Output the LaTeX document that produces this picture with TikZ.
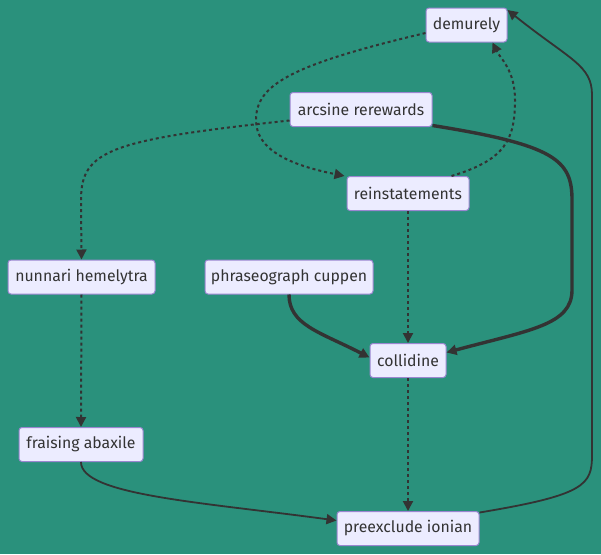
\documentclass[tikz,border=0pt]{standalone}
\usepackage{fontspec}
\setmainfont{Fira Sans}
\usetikzlibrary{arrows.meta}
\definecolor{bg}{HTML}{2A917C}
\definecolor{nfill}{HTML}{ECECFF}
\definecolor{nborder}{HTML}{9A86D0}
\definecolor{edgec}{HTML}{333333}
\begin{document}
\begin{tikzpicture}[x=1pt,y=-1pt,
  box/.style={draw=nborder,fill=nfill,rounded corners=3pt,line width=1pt,inner sep=0pt,
    minimum height=34pt,font=\fontsize{15.8}{18}\selectfont,text=edgec},
  link/.style={draw=edgec,line width=1.8pt,-{Triangle[length=10pt,width=10pt]}},
  thicklink/.style={link,line width=3.4pt},
  dotlink/.style={link,line width=2pt,dash pattern=on 3pt off 3pt}]
\fill[bg] (0,0) rectangle (601,554);
\node[box,minimum width=81pt]  (dem) at (466.5,25) {demurely};
\node[box,minimum width=142pt] (arc) at (361,109.5) {arcsine rerewards};
\node[box,minimum width=122pt] (rei) at (408,193.5) {reinstatements};
\node[box,minimum width=147pt] (nun) at (81.5,277) {nunnari hemelytra};
\node[box,minimum width=168pt] (phr) at (289,277) {phraseograph cuppen};
\node[box,minimum width=76pt]  (col) at (408,360.5) {collidine};
\node[box,minimum width=124pt] (fra) at (81,444.5) {fraising abaxile};
\node[box,minimum width=142pt] (pre) at (408,528.5) {preexclude ionian};
% demurely -> reinstatements
\draw[dotlink] ([yshift=-8pt]dem.west) .. controls (290,65) and (256,85) .. (256,120)
  .. controls (256,150) and (290,165) .. ([xshift=-2pt]rei.north west);
% arcsine -> nunnari
\draw[dotlink] ([yshift=-11pt]arc.west) .. controls (110,140) and (81,150) .. (81,200) -- (nun.north);
% reinstatements -> demurely
\draw[dotlink] ([xshift=-18pt]rei.north east) .. controls (505,160) and (515,140) .. (515,100)
  .. controls (515,70) and (500,58) .. ([xshift=-15pt]dem.south east);
% arcsine -> collidine
\draw[thicklink] ([yshift=-16pt]arc.east) .. controls (555,145) and (572,160) .. (572,200) -- (572,290)
  .. controls (572,325) and (530,330) .. ([yshift=8pt]col.east);
% reinstatements -> collidine
\draw[dotlink] (rei.south) -- (col.north);
% phraseograph -> collidine
\draw[thicklink] (phr.south) .. controls (289,325) and (320,332) .. ([yshift=3pt]col.west);
% nunnari -> fraising
\draw[dotlink] (nun.south) -- (fra.north);
% collidine -> preexclude
\draw[dotlink] (col.south) -- (pre.north);
% fraising -> preexclude
\draw[link] (fra.south) .. controls (81,495) and (200,502) .. ([yshift=8pt]pre.west);
% preexclude -> demurely
\draw[link] ([yshift=16pt]pre.east) .. controls (585,495) and (592,485) .. (592,455) -- (592,95)
  .. controls (592,65) and (570,60) .. ([yshift=15pt]dem.east);
\end{tikzpicture}
\end{document}
